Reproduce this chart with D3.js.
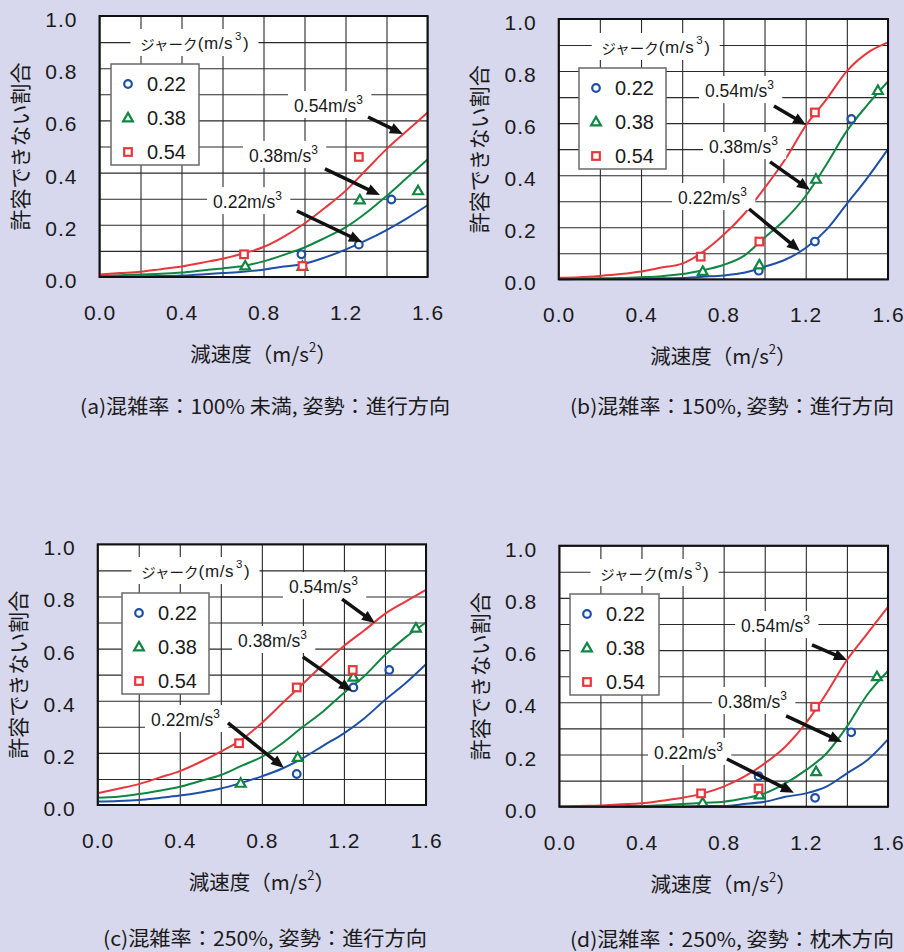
<!DOCTYPE html>
<html><head><meta charset="utf-8">
<script src="https://cdn.jsdelivr.net/npm/d3@7"></script>
<style>body{margin:0;background:#d7d7ed;} svg{display:block}</style>
</head><body><svg id="c" width="904" height="952"></svg>
<script>
// ---------- data ----------
const jerkLevels = ["0.22", "0.38", "0.54"];
const xTickValues = [0, 0.4, 0.8, 1.2, 1.6];
const yTickValues = [0, 0.2, 0.4, 0.6, 0.8, 1.0];
const decel = [0,0.1,0.2,0.3,0.4,0.5,0.6,0.7,0.8,0.9,1.0,1.1,1.2,1.3,1.4,1.5,1.6];

const a054 = [0.01,0.015,0.02,0.03,0.04,0.055,0.07,0.09,0.115,0.155,0.205,0.265,0.33,0.41,0.49,0.56,0.63];
const a038 = [0.005,0.007,0.01,0.012,0.017,0.025,0.033,0.042,0.06,0.085,0.113,0.15,0.19,0.245,0.31,0.38,0.45];
const a022 = [0.002,0.002,0.003,0.004,0.006,0.01,0.015,0.02,0.028,0.04,0.051,0.075,0.105,0.14,0.18,0.225,0.275];
const b054 = [0.006,0.008,0.013,0.02,0.03,0.045,0.06,0.105,0.17,0.25,0.35,0.46,0.59,0.69,0.80,0.87,0.91];
const b038 = [0.002,0.003,0.004,0.005,0.008,0.012,0.02,0.035,0.055,0.09,0.16,0.23,0.32,0.44,0.57,0.67,0.76];
const b022 = [0,0.001,0.001,0.002,0.003,0.004,0.005,0.01,0.015,0.025,0.048,0.075,0.12,0.19,0.29,0.39,0.5];
const c054 = [0.045,0.062,0.08,0.105,0.13,0.165,0.205,0.25,0.315,0.39,0.465,0.54,0.61,0.67,0.733,0.78,0.825];
const c038 = [0.028,0.032,0.042,0.055,0.07,0.092,0.115,0.15,0.185,0.237,0.3,0.36,0.43,0.495,0.575,0.643,0.7];
const c022 = [0.013,0.015,0.019,0.027,0.036,0.048,0.063,0.085,0.11,0.14,0.18,0.228,0.275,0.333,0.403,0.467,0.54];
const d054 = [0,0.003,0.005,0.009,0.013,0.023,0.034,0.051,0.077,0.115,0.166,0.23,0.32,0.434,0.562,0.664,0.766];
const d038 = [0,0,0.001,0.002,0.003,0.006,0.01,0.015,0.019,0.032,0.051,0.089,0.14,0.204,0.307,0.43,0.52];
const d022 = [0,0,0,0,0,0.001,0.001,0.002,0.003,0.01,0.019,0.038,0.051,0.077,0.128,0.179,0.258];

const aPts022 = [[0.985,0.087],[1.265,0.124],[1.424,0.297]];
const aPts038 = [[0.711,0.042],[0.99,0.04],[1.27,0.295],[1.554,0.33]];
const aPts054 = [[0.705,0.087],[0.99,0.042],[1.265,0.46]];
const bPts022 = [[0.972,0.033],[1.245,0.145],[1.422,0.616]];
const bPts038 = [[0.70,0.03],[0.975,0.055],[1.25,0.384],[1.551,0.725]];
const bPts054 = [[0.69,0.087],[0.975,0.145],[1.245,0.641]];
const cPts022 = [[0.97,0.119],[1.246,0.451],[1.421,0.518]];
const cPts038 = [[0.697,0.083],[0.975,0.182],[1.246,0.49],[1.551,0.678]];
const cPts054 = [[0.689,0.237],[0.97,0.451],[1.243,0.518]];
const dPts022 = [[0.97,0.117],[1.245,0.034],[1.421,0.285]];
const dPts038 = [[0.698,0.015],[0.975,0.045],[1.25,0.134],[1.546,0.498]];
const dPts054 = [[0.69,0.051],[0.97,0.07],[1.245,0.383]];

const captions = [
  "(a)混雑率：100% 未満, 姿勢：進行方向",
  "(b)混雑率：150%, 姿勢：進行方向",
  "(c)混雑率：250%, 姿勢：進行方向",
  "(d)混雑率：250%, 姿勢：枕木方向"
];
const xTitle = "減速度（m/s";
const yTitle = "許容できない割合";
const legendTitle = "ジャーク";

// ---------- layout / style ----------
const colors = {"0.22": "#1e4fa6", "0.38": "#0f8642", "0.54": "#e8373c"};
const markers = {"0.22": "circle", "0.38": "triangle", "0.54": "square"};

const panels = [
  {plot:{x:99.5,y:16,w:328,h:261}, curves:[a022,a038,a054], pts:[aPts022,aPts038,aPts054],
   legend:{x:11.5,y:48,w:88,h:101,tx:95,ty:27}, cap:{x:265,y:405,w:370},
   ann:[{t:[0.554,0.264],a:[0.963,0.253],b:[1.280,0.134]},{t:[0.729,0.441],a:[1.100,0.414],b:[1.368,0.314]},{t:[0.949,0.632],a:[1.310,0.613],b:[1.480,0.548]}]},
  {plot:{x:558.7,y:19,w:329.3,h:260.3}, curves:[b022,b038,b054], pts:[bPts022,bPts038,bPts054],
   legend:{x:20.3,y:49,w:87,h:101,tx:97,ty:28}, cap:{x:732,y:405,w:324},
   ann:[{t:[0.580,0.289],a:[0.925,0.270],b:[1.172,0.109]},{t:[0.730,0.485],a:[1.027,0.451],b:[1.221,0.343]},{t:[0.711,0.700],a:[1.046,0.666],b:[1.202,0.593]}]},
  {plot:{x:97.7,y:544.3,w:328.3,h:260.7}, curves:[c022,c038,c054], pts:[cPts022,cPts038,cPts054],
   legend:{x:24.3,y:48.7,w:87,h:101,tx:97.8,ty:26.7}, cap:{x:265,y:937,w:324},
   ann:[{t:[0.260,0.303],a:[0.635,0.315],b:[0.908,0.142]},{t:[0.684,0.606],a:[1.0,0.568],b:[1.239,0.437]},{t:[0.932,0.813],a:[1.191,0.790],b:[1.351,0.698]}]},
  {plot:{x:559.3,y:545.7,w:328.7,h:261}, curves:[d022,d038,d054], pts:[dPts022,dPts038,dPts054],
   legend:{x:10.7,y:48.3,w:89,h:101,tx:95.2,ty:27.3}, cap:{x:732,y:938,w:324},
   ann:[{t:[0.461,0.183],a:[0.816,0.183],b:[1.142,0.053]},{t:[0.773,0.378],a:[1.104,0.348],b:[1.376,0.248]},{t:[0.885,0.669],a:[1.230,0.620],b:[1.400,0.562]}]}
];

const LATIN = "'Liberation Sans', Arial, sans-serif";
const CJK = "'Noto Sans CJK JP', sans-serif";
const svg = d3.select("#c");

function drawMarker(g, type, cx, cy, color) {
  if (type === "circle") {
    g.append("circle").attr("cx", cx).attr("cy", cy).attr("r", 3.8)
      .attr("fill", "white").attr("stroke", color).attr("stroke-width", 2.2);
  } else if (type === "square") {
    g.append("rect").attr("x", cx - 3.8).attr("y", cy - 3.8).attr("width", 7.6).attr("height", 7.6)
      .attr("fill", "white").attr("stroke", color).attr("stroke-width", 2.2);
  } else {
    const s = 9.8, h = s * Math.sqrt(3) / 2;
    g.append("path").attr("d", `M${cx},${cy - h*0.6}L${cx + s/2},${cy + h*0.4}L${cx - s/2},${cy + h*0.4}Z`)
      .attr("fill", "white").attr("stroke", color).attr("stroke-width", 2.2).attr("stroke-linejoin", "miter");
  }
}

panels.forEach((p, i) => {
  const {x: px, y: py, w, h} = p.plot;
  const xs = d3.scaleLinear().domain([0, 1.6]).range([0, w]);
  const ys = d3.scaleLinear().domain([0, 1.0]).range([h, 0]);
  const g = svg.append("g").attr("transform", `translate(${px},${py})`);

  g.append("rect").attr("width", w).attr("height", h).attr("fill", "white");

  // grid
  const gx = g.append("g").attr("transform", `translate(0,${h})`)
    .call(d3.axisBottom(xs).tickValues(d3.range(0, 1.61, 0.2)).tickSize(-h).tickFormat(""));
  const gy = g.append("g")
    .call(d3.axisLeft(ys).tickValues(d3.range(0, 1.01, 0.1)).tickSize(-w).tickFormat(""));
  [gx, gy].forEach(a => {
    a.select(".domain").remove();
    a.selectAll("line").attr("stroke", "#2a2a2a").attr("stroke-width", 1.1);
  });

  // tick labels
  const lx = g.append("g").attr("transform", `translate(0,${h})`)
    .call(d3.axisBottom(xs).tickValues(xTickValues).tickSize(0).tickPadding(28).tickFormat(d3.format(".1f")));
  const ly = g.append("g")
    .call(d3.axisLeft(ys).tickValues(yTickValues).tickSize(0).tickPadding(22).tickFormat(d3.format(".1f")));
  [lx, ly].forEach(a => {
    a.select(".domain").remove();
    a.selectAll("text").attr("font-family", LATIN).attr("font-size", 21).attr("fill", "#1a1a1a")
      .attr("letter-spacing", 1);
  });
  ly.selectAll("text").attr("dy", "0.5em");

  // curves
  const line = d3.line().x((d, k) => xs(decel[k])).y(d => ys(d)).curve(d3.curveMonotoneX);
  const cg = g.append("g");
  p.curves.forEach((arr, k) => {
    cg.append("path").datum(arr).attr("d", line).attr("fill", "none")
      .attr("stroke", colors[jerkLevels[k]]).attr("stroke-width", 2);
  });

  // points
  const mg = g.append("g");
  p.pts.forEach((arr, k) => {
    arr.forEach(d => drawMarker(mg, markers[jerkLevels[k]], xs(d[0]), ys(d[1]), colors[jerkLevels[k]]));
  });

  // annotations
  p.ann.forEach((an, k) => {
    const ag = g.append("g");
    const rect = ag.append("rect").attr("fill", "white");
    const t = ag.append("text").attr("x", xs(an.t[0])).attr("y", ys(an.t[1]))
      .attr("font-family", LATIN).attr("font-size", 17.5).attr("fill", "#1a1a1a");
    t.append("tspan").text(jerkLevels[k] + "m/s");
    t.append("tspan").attr("font-size", 12).attr("dy", -8).text("3");
    const bb = t.node().getBBox();
    rect.attr("x", bb.x - 6).attr("y", bb.y - 2).attr("width", bb.width + 14).attr("height", bb.height + 4);
  });
  p.ann.forEach(an => {
    const x1 = xs(an.a[0]), y1 = ys(an.a[1]), x2 = xs(an.b[0]), y2 = ys(an.b[1]);
    const ang = Math.atan2(y2 - y1, x2 - x1);
    const hl = 13, hw = 5.5;
    const bx = x2 - hl * Math.cos(ang), by = y2 - hl * Math.sin(ang);
    g.append("line").attr("x1", x1).attr("y1", y1).attr("x2", bx + 2*Math.cos(ang)).attr("y2", by + 2*Math.sin(ang))
      .attr("stroke", "#111").attr("stroke-width", 3.5);
    g.append("path").attr("d",
      `M${x2},${y2}L${bx + hw*Math.sin(ang)},${by - hw*Math.cos(ang)}L${bx - hw*Math.sin(ang)},${by + hw*Math.cos(ang)}Z`)
      .attr("fill", "#111");
  });

  // legend title
  const L = p.legend;
  const tg = g.append("g");
  const trect = tg.append("rect").attr("fill", "white");
  const tt = tg.append("text").attr("x", L.tx).attr("y", L.ty).attr("text-anchor", "middle")
    .attr("dominant-baseline", "central").attr("fill", "#1a1a1a");
  tt.append("tspan").attr("font-family", CJK).attr("font-size", 14.5).text(legendTitle);
  tt.append("tspan").attr("font-family", LATIN).attr("font-size", 17).attr("letter-spacing", 0.6).text("(m/s");
  tt.append("tspan").attr("font-family", LATIN).attr("font-size", 11.5).attr("dy", -7).attr("dx", 2).text("3");
  tt.append("tspan").attr("font-family", LATIN).attr("font-size", 17).attr("dy", 7).attr("dx", 1.5).text(")");
  trect.attr("x", L.tx - 64).attr("y", L.ty - 14).attr("width", 128).attr("height", 27);

  // legend box
  const lg = g.append("g").attr("transform", `translate(${L.x},${L.y})`);
  lg.append("rect").attr("width", L.w).attr("height", L.h).attr("fill", "white")
    .attr("stroke", "#6a6a6a").attr("stroke-width", 1.5);
  jerkLevels.forEach((lv, k) => {
    const ry = 20 + k * 34;
    drawMarker(lg, markers[lv], 17, ry, colors[lv]);
    lg.append("text").attr("x", 36).attr("y", ry).attr("dy", "0.36em")
      .attr("font-family", LATIN).attr("font-size", 20).attr("fill", "#1a1a1a").text(lv);
  });

  // frame
  g.append("rect").attr("width", w).attr("height", h).attr("fill", "none")
    .attr("stroke", "#111").attr("stroke-width", 2);

  // axis titles
  const xt = g.append("text").attr("x", w / 2).attr("y", h + 76).attr("text-anchor", "middle")
    .attr("dominant-baseline", "central").attr("font-family", CJK).attr("font-size", 20.5).attr("fill", "#1a1a1a");
  xt.append("tspan").text(xTitle);
  xt.append("tspan").attr("font-size", 13).attr("dy", -7).text("2");
  xt.append("tspan").attr("dy", 7).text("）");

  g.append("text").attr("transform", `translate(-80.5,${h / 2}) rotate(-90)`).attr("text-anchor", "middle")
    .attr("dominant-baseline", "central").attr("font-family", CJK).attr("font-size", 21).attr("fill", "#1a1a1a")
    .text(yTitle);

  // caption
  svg.append("text").attr("x", p.cap.x).attr("y", p.cap.y).attr("text-anchor", "middle")
    .attr("dominant-baseline", "central").attr("font-family", CJK).attr("font-size", 20)
    .attr("fill", "#1a1a1a").attr("textLength", p.cap.w).attr("lengthAdjust", "spacingAndGlyphs").text(captions[i]);
});
</script></body></html>
